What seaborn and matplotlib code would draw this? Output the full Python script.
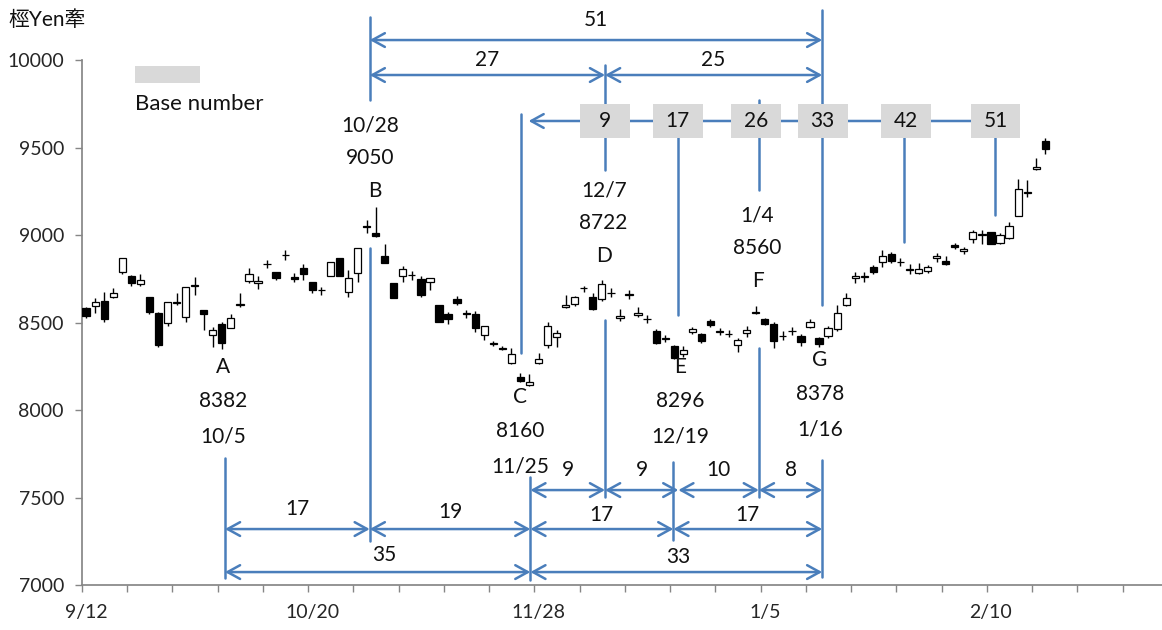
import numpy as np
import pandas as pd
import matplotlib
matplotlib.use("Agg")
import matplotlib.pyplot as plt
from matplotlib.patches import Rectangle
import seaborn as sns

# daily candles (trading day index 0 = 9/12)
open_ = [8583, 8596, 8626, 8649, 8788, 8769, 8720, 8649, 8554, 8500,
         8612, 8531, 8713, 8573, 8430, 8493, 8468, 8604, 8739, 8725,
         8834, 8788, 8885, 8763, 8811, 8735, 8685, 8767, 8869, 8677,
         8786, 9055, 9015, 8883, 8725, 8767, 8771, 8748, 8735, 8601,
         8548, 8636, 8552, 8548, 8428, 8380, 8352, 8268, 8191, 8144,
         8271, 8373, 8417, 8588, 8607, 8698, 8649, 8634, 8670, 8525,
         8661, 8544, 8519, 8455, 8409, 8367, 8321, 8447, 8436, 8510,
         8447, 8434, 8373, 8440, 8553, 8520, 8493, 8422, 8451, 8426,
         8477, 8411, 8424, 8462, 8601, 8756, 8760, 8821, 8846, 8893,
         8847, 8804, 8786, 8796, 8869, 8853, 8945, 8910, 8977, 9004,
         9017, 8958, 8986, 9112, 9242, 9378, 9539]
high = [8590, 8640, 8674, 8697, 8869, 8773, 8777, 8649, 8560, 8617,
        8668, 8706, 8760, 8573, 8474, 8506, 8550, 8668, 8811, 8767,
        8859, 8788, 8916, 8783, 8836, 8735, 8706, 8849, 8869, 8802,
        8929, 9088, 9160, 8950, 8725, 8825, 8796, 8767, 8758, 8601,
        8561, 8653, 8573, 8567, 8481, 8396, 8367, 8354, 8214, 8205,
        8325, 8504, 8458, 8659, 8653, 8710, 8672, 8744, 8699, 8577,
        8687, 8592, 8544, 8464, 8430, 8373, 8367, 8476, 8441, 8521,
        8470, 8458, 8413, 8481, 8596, 8527, 8504, 8453, 8476, 8436,
        8521, 8418, 8481, 8601, 8672, 8792, 8792, 8830, 8916, 8905,
        8870, 8836, 8840, 8830, 8899, 8882, 8956, 8933, 9030, 9030,
        9017, 9013, 9074, 9320, 9316, 9442, 9555]
low = [8525, 8554, 8506, 8640, 8779, 8712, 8712, 8550, 8363, 8481,
       8601, 8506, 8659, 8458, 8363, 8348, 8468, 8592, 8729, 8691,
       8811, 8744, 8859, 8735, 8744, 8672, 8659, 8767, 8767, 8649,
       8735, 9012, 8990, 8840, 8643, 8735, 8744, 8647, 8687, 8506,
       8493, 8601, 8527, 8447, 8401, 8367, 8344, 8262, 8163, 8138,
       8262, 8355, 8363, 8584, 8596, 8677, 8573, 8624, 8647, 8512,
       8636, 8533, 8498, 8378, 8390, 8293, 8304, 8436, 8384, 8476,
       8430, 8418, 8334, 8418, 8550, 8487, 8355, 8401, 8430, 8367,
       8470, 8361, 8413, 8453, 8596, 8726, 8735, 8779, 8821, 8842,
       8824, 8779, 8779, 8784, 8847, 8830, 8922, 8893, 8956, 8950,
       8952, 8950, 8979, 9110, 9217, 9376, 9465]
close = [8540, 8620, 8521, 8672, 8869, 8725, 8744, 8563, 8373, 8617,
         8617, 8706, 8716, 8550, 8458, 8382, 8525, 8607, 8777, 8740,
         8836, 8754, 8887, 8748, 8777, 8687, 8687, 8849, 8767, 8756,
         8929, 9050, 8996, 8840, 8643, 8806, 8773, 8659, 8758, 8506,
         8520, 8611, 8550, 8468, 8481, 8382, 8354, 8319, 8168, 8160,
         8291, 8481, 8440, 8601, 8645, 8700, 8577, 8722, 8672, 8538,
         8663, 8557, 8521, 8382, 8411, 8296, 8344, 8464, 8397, 8485,
         8449, 8436, 8401, 8458, 8560, 8493, 8397, 8424, 8453, 8391,
         8502, 8378, 8472, 8554, 8643, 8769, 8769, 8788, 8884, 8855,
         8849, 8806, 8806, 8817, 8882, 8838, 8931, 8922, 9021, 9006,
         8952, 9002, 9055, 9263, 9244, 9389, 9492]

date_ticks = [0, 25, 50, 75, 100]
date_labels = ["9/12", "10/20", "11/28", "1/5", "2/10"]
n_slots = 119

# turning points: letter, day index, price, date
points = ["A", "B", "C", "D", "E", "F", "G"]
point_day = [15, 31, 49, 57, 65, 74, 81]
point_price = [8382, 9050, 8160, 8722, 8296, 8560, 8378]
point_date = ["10/5", "10/28", "11/25", "12/7", "12/19", "1/4", "1/16"]

# day counts from C shown in the grey boxes
base_counts = ["9", "17", "26", "33", "42", "51"]
base_day = [57, 65, 74, 81, 90, 100]

df = pd.DataFrame({"open": open_, "high": high, "low": low, "close": close})
df["day"] = np.arange(len(df))
df["up"] = df["close"] >= df["open"]
df["body_lo"] = df[["open", "close"]].min(axis=1)
df["body_h"] = (df["close"] - df["open"]).abs().clip(lower=3)

sns.set_theme(style="white")
plt.rcParams["font.family"] = ["Lato", "Noto Sans CJK JP", "DejaVu Sans"]
plt.rcParams["text.color"] = "#111111"
blue = "#4A7EBB"
fs = 15      # annotation text
tfs = 14     # tick labels

fig = plt.figure(figsize=(11.62, 6.30), dpi=100)
ax = fig.add_axes([82 / 1162, 45 / 630, 1080 / 1162, 524.5 / 630])

ax.vlines(df["day"], df["low"], df["high"], color="black", lw=1.0, zorder=2)
ax.bar(df["day"], df["body_h"], bottom=df["body_lo"], width=0.8,
       color=np.where(df["up"], "white", "black"), edgecolor="black",
       linewidth=0.9, zorder=3)

ax.set_xlim(-0.45, n_slots - 0.1)
ax.set_ylim(7000, 10000)
ax.set_yticks(np.arange(7000, 10001, 500))
ax.set_yticklabels([str(v) for v in range(7000, 10001, 500)], fontsize=tfs)
ax.set_xticks(np.arange(-0.45, n_slots, 5))
ax.set_xticklabels([])
ax.set_xticks(date_ticks, date_labels, minor=True)
ax.tick_params(axis="x", which="minor", length=0, pad=14, labelsize=tfs)
ax.tick_params(axis="x", which="major", direction="out", length=5, width=1,
               color="#868686", bottom=True)
ax.tick_params(axis="y", direction="out", length=5, width=1, color="#868686",
               pad=8, left=True)
sns.despine(ax=ax)
ax.spines["left"].set_color("#868686")
ax.spines["bottom"].set_color("#868686")
ax.grid(False)

day = dict(zip(points, point_day))
lx = {p: d + 0.35 for p, d in day.items()}
lx["C"] = 49.1
c_up = 48.1
e_low = 64.9


def vline(x, y0, y1):
    ax.plot([x, x], [y0, y1], color=blue, lw=1.8, clip_on=False, zorder=4)


def arrow(x0, x1, y, style="<->"):
    ax.annotate("", xy=(x1, y), xytext=(x0, y), annotation_clip=False,
                arrowprops=dict(arrowstyle=style + ",head_length=0.6,head_width=0.33",
                                color=blue, lw=1.8, shrinkA=0, shrinkB=0,
                                mutation_scale=15), zorder=4)


def label(x, y, s):
    ax.text(x, y, s, ha="center", va="center", fontsize=fs, clip_on=False, zorder=6)


# vertical guide lines
vline(lx["B"], 9774, 10249)
vline(lx["B"], 7251, 8927)
vline(lx["G"], 8601, 10289)
vline(lx["G"], 7046, 7715)
vline(c_up, 8327, 9694)
vline(lx["C"], 7028, 7615)
vline(lx["D"], 9374, 9974)
vline(lx["D"], 7503, 8516)
vline(lx["E"] + 0.1, 8544, 9600)
vline(e_low, 7257, 7703)
vline(lx["F"], 9259, 9774)
vline(lx["F"], 7503, 8355)
vline(base_day[4] + 0.4, 8962, 9600)
vline(base_day[5] + 0.5, 9116, 9600)
vline(lx["A"], 7040, 7726)

# top spans
arrow(lx["B"], lx["G"], 10117)
label((lx["B"] + lx["G"]) / 2, 10232, "51")
arrow(lx["B"], lx["D"], 9917)
label((lx["B"] + lx["D"]) / 2, 10003, "27")
arrow(lx["D"], lx["G"], 9917)
label((lx["D"] + lx["G"]) / 2, 10003, "25")

# base-number line with boxes
arrow(base_day[5] + 0.5, 48.9, 9654, style="->")
box_x = [57.3, 65.4, 74.0, 81.4, 90.6, 100.5]
for bx, s in zip(box_x, base_counts):
    ax.add_patch(Rectangle((bx - 2.76, 9554), 5.52, 200, facecolor="#D9D9D9",
                           edgecolor="none", clip_on=False, zorder=5))
    label(bx, 9654, s)

# lower spans
row1 = [lx["C"], lx["D"], lx["E"] + 0.1, lx["F"], lx["G"]]
for a, b, s in zip(row1[:-1], row1[1:], ["9", "9", "10", "8"]):
    arrow(a, b, 7543)
    label((a + b) / 2, 7658, s)
row2 = [lx["A"], lx["B"], lx["C"], e_low, lx["G"]]
row2_y = [7435, 7420, 7400, 7400]
for a, b, s, ty in zip(row2[:-1], row2[1:], ["17", "19", "17", "17"], row2_y):
    arrow(a, b, 7320)
    label((a + b) / 2, ty, s)
arrow(lx["A"], lx["C"], 7074)
label(33.0, 7171, "35")
arrow(lx["C"], lx["G"], 7074)
label(65.4, 7160, "33")

# turning point labels
below = {"A": 15.1, "C": 48.0, "E": 65.7, "G": 81.1}
above = {"B": 31.4, "D": 57.2, "F": 74.2}
for p, v, d in zip(points, point_price, point_date):
    if p in below:
        x = below[p]
        y0 = {"A": 8247, "C": 8075, "E": 8247, "G": 8287}[p]
        label(x, y0, p)
        label(x, y0 - 195, str(v))
        label(x, y0 - 395, d)
    else:
        x = above[p]
        y0 = {"B": 9631, "D": 9259, "F": 9116}[p]
        label(x, y0, d)
        label(x, y0 - 189, str(v))
        label(x + (0.5 if p == "B" else 0), y0 - 380, p)

# legend and unit
fig.patches.append(Rectangle((135 / 1162, 1 - 83 / 630), 65 / 1162, 17 / 630,
                             transform=fig.transFigure, facecolor="#D9D9D9",
                             edgecolor="none"))
fig.text(135 / 1162, 1 - 104 / 630, "Base number", ha="left", va="center", fontsize=16)
fig.text(8 / 1162, 1 - 20 / 630, "桱Yen牽", ha="left", va="center", fontsize=15)

fig.savefig("out.png", dpi=100)
